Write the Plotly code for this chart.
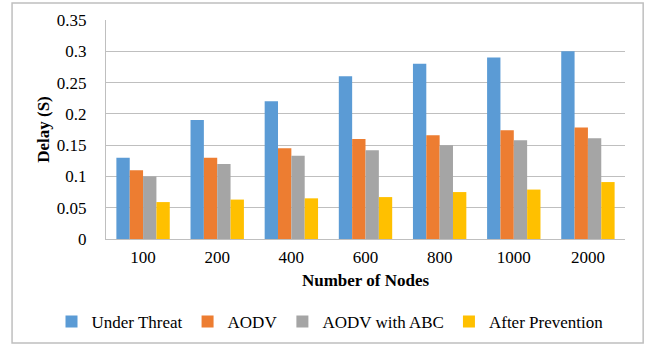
import plotly.graph_objects as go

categories = ["100", "200", "400", "600", "800", "1000", "2000"]
under_threat = [0.13, 0.19, 0.22, 0.26, 0.28, 0.29, 0.30]
aodv = [0.11, 0.13, 0.145, 0.16, 0.166, 0.174, 0.178]
aodv_abc = [0.10, 0.12, 0.133, 0.142, 0.15, 0.158, 0.161]
after_prevention = [0.059, 0.063, 0.065, 0.067, 0.075, 0.079, 0.091]

series = [
    ("Under Threat", under_threat, "#5B9BD5"),
    ("AODV", aodv, "#ED7D31"),
    ("AODV with ABC", aodv_abc, "#A5A5A5"),
    ("After Prevention", after_prevention, "#FFC000"),
]

fig = go.Figure()
for name, vals, color in series:
    fig.add_trace(go.Bar(name=name, x=categories, y=vals, marker_color=color,
                         marker_line_width=0))

font = "'Liberation Serif', 'Times New Roman', 'DejaVu Serif', serif"
fig.update_layout(
    width=653, height=347,
    margin=dict(l=106, r=28, t=20, b=108, autoexpand=False),
    paper_bgcolor="white", plot_bgcolor="white",
    font=dict(family=font, size=17, color="#000000"),
    barmode="group", bargap=0.28, bargroupgap=0,
    showlegend=True,
    legend=dict(orientation="h", x=-0.105, xanchor="left", y=-0.379, yanchor="middle",
                font=dict(family=font, size=17), tracegroupgap=0,
                itemsizing="constant"),
    xaxis=dict(type="category", showline=True, linecolor="#BFBFBF", linewidth=1,
               ticks="outside", ticklen=3, tickcolor="white",
               tickfont=dict(size=17), automargin=False,
               title=dict(text="<b>Number of Nodes</b>", standoff=7, font=dict(size=17))),
    yaxis=dict(range=[0, 0.35], showgrid=True, gridcolor="#BFBFBF",
               gridwidth=1, showline=True, linecolor="#BFBFBF", zeroline=False,
               tickvals=[0, 0.05, 0.1, 0.15, 0.2, 0.25, 0.3, 0.35],
               ticktext=["0", "0.05", "0.1", "0.15", "0.2", "0.25", "0.3", "0.35"],
               ticks="outside", ticklen=15, tickcolor="white", automargin=False,
               tickfont=dict(size=17),
               title=dict(text="<b>Delay (S)</b>", standoff=2, font=dict(size=17))),
    shapes=[dict(type="rect", xref="paper", yref="paper",
                 x0=-0.181, x1=1.035, y0=-0.475, y1=1.078,
                 line=dict(color="#BFBFBF", width=1.5), fillcolor="rgba(0,0,0,0)")],
)

fig.write_html("out.html")
